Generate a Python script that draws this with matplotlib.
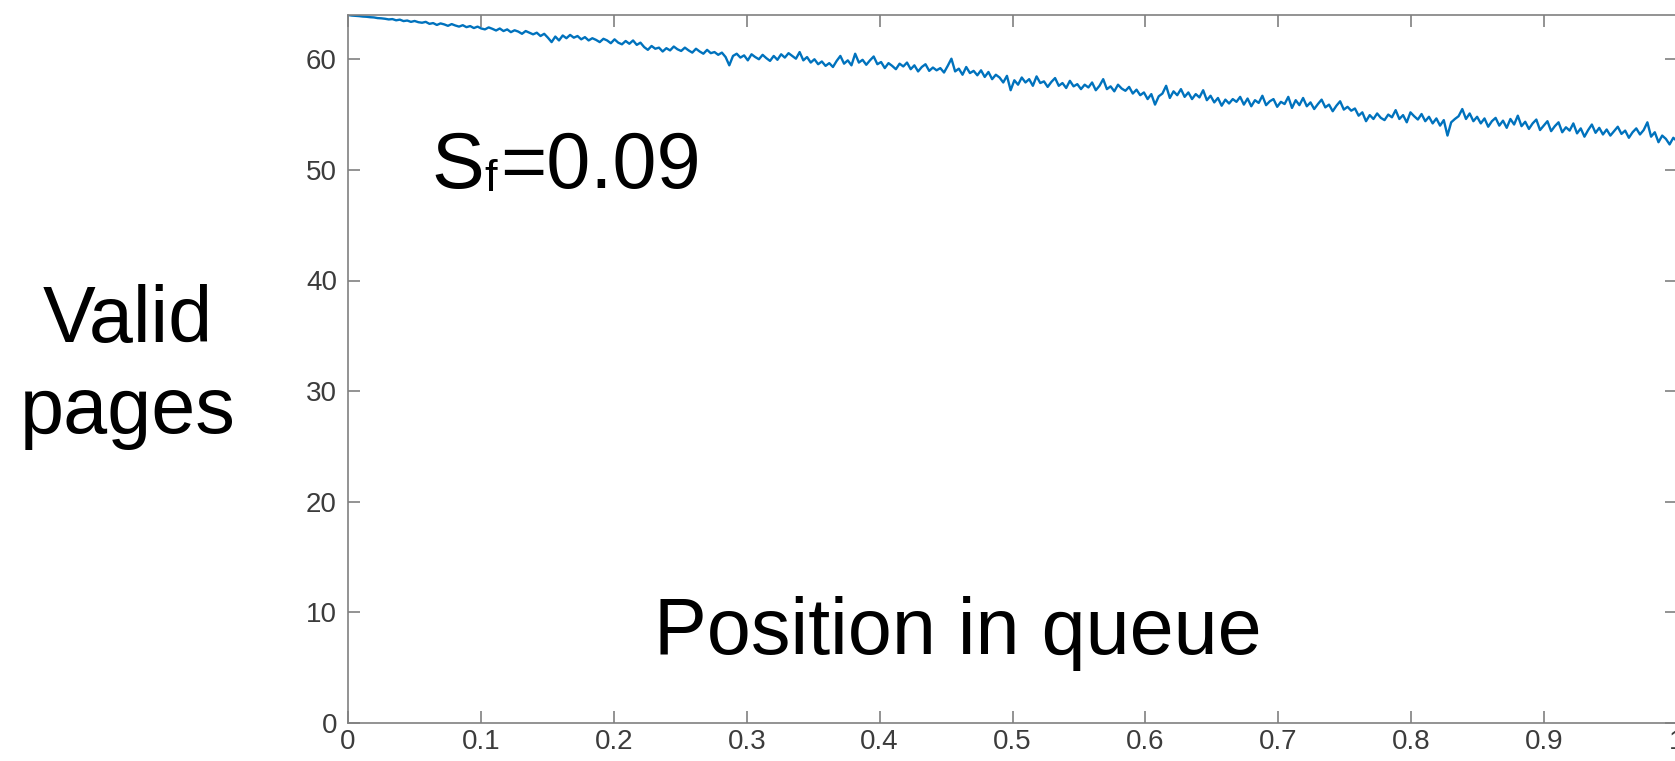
import numpy as np
import matplotlib.pyplot as plt

plt.rcParams['font.family'] = ['Liberation Sans', 'DejaVu Sans']

# valid pages per block, sampled along the queue (front -> back)
valid_pages = [
    64.0, 63.95, 63.93, 63.9, 63.86, 63.84, 63.8, 63.78, 63.72, 63.7,
    63.66, 63.6, 63.63, 63.52, 63.58, 63.45, 63.5, 63.38, 63.46, 63.35,
    63.3, 63.38, 63.2, 63.27, 63.1, 63.24, 63.15, 63.02, 63.18, 63.05,
    62.95, 63.08, 62.9, 63.0, 62.82, 62.95, 62.78, 62.7, 62.88, 62.75,
    62.6, 62.78, 62.55, 62.7, 62.45, 62.62, 62.5, 62.3, 62.55, 62.4,
    62.25, 62.4, 62.1, 62.3, 61.95, 61.55, 62.05, 61.7, 62.15, 61.9,
    62.2, 61.95, 62.1, 61.8, 62.0, 61.7, 61.9, 61.75, 61.55, 61.85,
    61.7, 61.45, 61.8, 61.5, 61.35, 61.65, 61.4, 61.7, 61.3, 61.5,
    61.1, 60.85, 61.2, 60.95, 61.05, 60.7, 61.0, 60.8, 61.15, 60.9,
    60.75, 61.05, 60.8, 60.6, 60.95, 60.7, 60.5, 60.85, 60.55, 60.65,
    60.4, 60.6, 60.2, 59.45, 60.3, 60.5, 60.15, 60.35, 59.9, 60.45,
    60.2, 60.0, 60.4, 60.1, 59.85, 60.3, 59.95, 60.45, 60.15, 60.55,
    60.3, 60.05, 60.65, 59.9, 60.2, 59.7, 60.0, 59.55, 59.8, 59.4,
    59.65, 59.3, 59.85, 60.3, 59.6, 59.9, 59.45, 60.5, 59.7, 59.95,
    59.5, 59.9, 60.25, 59.55, 59.75, 59.2, 59.65, 59.4, 59.1, 59.6,
    59.35, 59.7, 59.1, 59.45, 58.9, 59.3, 59.55, 58.95, 59.25, 59.0,
    59.2, 58.8, 59.4, 60.05, 58.9, 59.15, 58.6, 59.3, 58.75, 58.95,
    58.55, 59.0, 58.4, 58.85, 58.2, 58.6, 58.35, 57.9, 58.5, 57.2,
    58.1, 57.7, 58.35, 57.9, 58.2, 57.6, 58.45, 57.85, 58.0, 57.5,
    57.95, 58.3, 57.6, 57.85, 57.4, 58.05, 57.55, 57.75, 57.3, 57.7,
    57.45, 57.9, 57.2, 57.6, 58.2, 57.3, 57.55, 57.1, 57.7, 57.35,
    57.15, 57.5, 56.9, 57.25, 56.75, 57.0, 56.4, 56.85, 55.9, 56.65,
    56.9, 57.6, 56.5, 57.1, 56.75, 57.3, 56.6, 57.0, 56.4, 56.85,
    56.55, 57.2, 56.3, 56.7, 56.1, 56.5, 55.8, 56.35, 56.0, 56.4,
    56.15, 56.6, 55.9, 56.45, 55.75, 56.3, 56.05, 56.7, 55.85, 56.2,
    56.4, 55.7, 56.15, 55.95, 56.6, 55.6, 56.3, 55.85, 56.5, 55.75,
    56.1, 55.5, 55.95, 56.35, 55.65, 55.9, 55.3, 55.8, 56.2, 55.45,
    55.7, 55.35, 55.55, 54.9, 55.2, 54.4, 54.95, 54.6, 55.1, 54.7,
    54.5, 55.0, 54.75, 55.4, 54.6, 54.95, 54.3, 55.2, 54.85, 54.55,
    55.05, 54.4, 54.8, 54.2, 54.65, 54.0, 54.5, 53.1, 54.3, 54.6,
    54.85, 55.5, 54.6, 55.1, 54.4, 54.8, 54.2, 54.65, 53.9, 54.4,
    54.7, 54.0, 54.45, 53.8, 54.6, 54.1, 54.9, 53.95, 54.35, 53.7,
    54.2, 54.55, 53.6, 54.0, 54.4, 53.5, 53.95, 54.3, 53.4, 53.85,
    53.55, 54.2, 53.3, 53.75, 53.0, 53.6, 54.1, 53.35, 53.8, 53.2,
    53.65, 53.1, 53.5, 53.9, 53.25, 53.55, 52.9, 53.4, 53.75, 53.2,
    53.6, 54.3, 53.0, 53.4, 52.5, 53.1, 52.8, 52.3, 52.9, 52.6,
]
position = np.linspace(0, 1, len(valid_pages))

x_ticks = [0, 0.1, 0.2, 0.3, 0.4, 0.5, 0.6, 0.7, 0.8, 0.9, 1]
x_tick_labels = ['0', '0.1', '0.2', '0.3', '0.4', '0.5', '0.6', '0.7', '0.8', '0.9', '1']
y_ticks = [0, 10, 20, 30, 40, 50, 60]

W, H = 1675, 761
fig = plt.figure(figsize=(W / 100, H / 100), dpi=100)
ax = fig.add_axes([348 / W, 38 / H, 1329 / W, 708 / H])

ax.plot(position, valid_pages, color='#0072BD', linewidth=1.7)

ax.set_xlim(0, 1)
ax.set_ylim(0, 64)
ax.set_xticks(x_ticks)
ax.set_xticklabels(x_tick_labels)
ax.set_yticks(y_ticks)
ax.tick_params(direction='in', length=8.5, width=1.2, colors='#808080',
               labelcolor='#3c3c3c', labelsize=20, top=True, right=True)
ax.tick_params(axis='x', pad=4)
ax.tick_params(axis='y', pad=8)
for spine in ax.spines.values():
    spine.set_color('#808080')
    spine.set_linewidth(1.2)

# large labels drawn on the figure
big = 57
fig.text(128 / W, 1 - 342 / H, 'Valid', fontsize=big, ha='center', va='baseline')
fig.text(128 / W, 1 - 433 / H, 'pages', fontsize=big, ha='center', va='baseline')
fig.text(958 / W, 1 - 654 / H, 'Position in queue', fontsize=big, ha='center', va='baseline')

fig.text(431 / W, 1 - 188 / H, 'S', fontsize=big, ha='left', va='baseline')
fig.text(484 / W, 1 - 191 / H, 'f', fontsize=big * 0.57, ha='left', va='baseline')
fig.text(500 / W, 1 - 188 / H, '=0.09', fontsize=big, ha='left', va='baseline')

fig.savefig('out.png', dpi=100)
